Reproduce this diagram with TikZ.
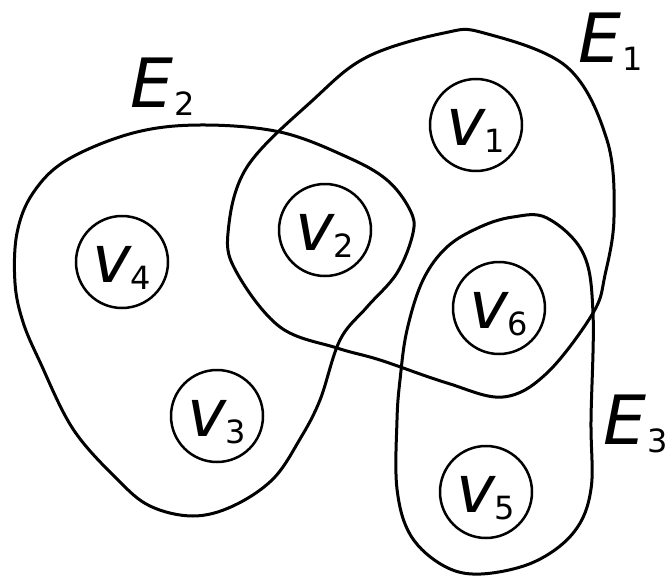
\documentclass[tikz,border=0pt]{standalone}
\usepackage{fontspec}
\newfontfamily\dvs{DejaVu Sans}
\newcommand{\vlab}[1]{{\dvs\itshape\fontsize{66}{66}\selectfont v}\kern-1pt\raisebox{-7pt}{\dvs\fontsize{32}{32}\selectfont #1}}
\newcommand{\elab}[1]{{\dvs\itshape\fontsize{68}{68}\selectfont E}\kern1pt\raisebox{-8pt}{\dvs\fontsize{32}{32}\selectfont #1}}
\begin{document}
\begin{tikzpicture}[x=1pt,y=-1pt,
  vert/.style={draw,circle,line width=2.5pt,minimum size=92pt,inner sep=0pt,text height=44pt,text depth=4pt},
  elabel/.style={inner sep=0pt,anchor=base west}]
\useasboundingbox (0,0) rectangle (669,578);
% hyperedges
\draw[line width=3pt] plot[smooth cycle,tension=0.6] coordinates {(313,100) (367,57) (444,33) (484,33) (567,67) (607,140) (614,217) (605,275) (593,313) (547,373) (503,397) (447,383) (380,360) (337,348) (280,327) (237,273) (228,233) (247,167)};
\draw[line width=3pt] plot[smooth cycle,tension=0.6] coordinates {(200,125) (280,132) (347,157) (387,180) (410,210) (413,233) (397,273) (367,307) (340,340) (320,400) (300,439) (273,479) (233,506) (193,516) (150,506) (117,479) (73,429) (40,362) (23,322) (15,283) (17,233) (33,193) (67,160) (133,133)};
\draw[line width=3pt] plot[smooth cycle,tension=0.6] coordinates {(513,217) (547,218) (583,253) (593,313) (591,420) (591,489) (574,532) (534,562) (481,574) (444,566) (411,536) (397,489) (397,420) (400,380) (407,330) (423,280) (447,247) (480,227)};
% vertices
\node[vert] (v1) at (476,125) {\vlab{1}};
\node[vert] (v2) at (325,230) {\vlab{2}};
\node[vert] (v3) at (217,416) {\vlab{3}};
\node[vert] (v4) at (122,262) {\vlab{4}};
\node[vert] (v5) at (486,492) {\vlab{5}};
\node[vert] (v6) at (499,308) {\vlab{6}};
% labels
\node[elabel] (e1) at (578,63) {\elab{1}};
\node[elabel] (e2) at (130,107) {\elab{2}};
\node[elabel] (e3) at (603,444) {\elab{3}};
\end{tikzpicture}
\end{document}
